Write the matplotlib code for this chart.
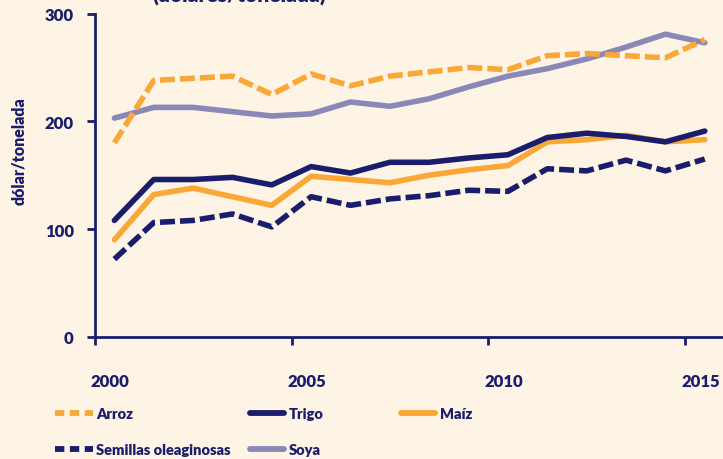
import matplotlib
matplotlib.use("Agg")
import matplotlib.pyplot as plt
import matplotlib.transforms as mtransforms
import numpy as np

# precios internacionales, dolares por tonelada
years = list(range(2000, 2016))
arroz = [180, 238, 240, 242, 225, 244, 233, 242, 246, 250, 248, 261, 263, 261, 259, 276]
trigo = [108, 146, 146, 148, 141, 158, 152, 162, 162, 166, 169, 185, 189, 186, 181, 191]
maiz = [90, 132, 138, 130, 122, 149, 146, 143, 150, 155, 159, 181, 183, 187, 181, 183]
semillas = [72, 106, 108, 114, 102, 130, 122, 128, 131, 136, 135, 156, 154, 164, 154, 165]
soya = [203, 213, 213, 209, 205, 207, 218, 214, 221, 232, 242, 249, 258, 269, 281, 273]
tick_years = [2000, 2005, 2010, 2015]
y_ticks = [0, 100, 200, 300]

BG = "#fdf4e6"
NAVY = "#1a1d6b"
ORANGE = "#f9a737"
LILA = "#8a88b6"

plt.rcParams['font.family'] = ['Lato', 'DejaVu Sans']

fig = plt.figure(figsize=(7.23, 4.60), dpi=100, facecolor=BG)
W, H = 723, 460
ax = fig.add_axes([94.7 / W, (H - 337.7) / H, (W - 94.7) / W, (337.7 - 14.7) / H])
ax.set_facecolor(BG)

# los puntos van centrados en cada año
x = np.array(years) + 0.5
lw = 4.0
dash = (2.7, 0.9)
ax.plot(x, soya, color=LILA, lw=lw, solid_capstyle='round', solid_joinstyle='round')
ax.plot(x, arroz, color=ORANGE, lw=lw, dashes=dash, dash_capstyle='butt')
ax.plot(x, semillas, color=NAVY, lw=lw, dashes=dash, dash_capstyle='butt')
ax.plot(x, maiz, color=ORANGE, lw=lw, solid_capstyle='round', solid_joinstyle='round')
ax.plot(x, trigo, color=NAVY, lw=lw, solid_capstyle='round', solid_joinstyle='round')

ax.set_xlim(2000, 2000 + (W - 94.7) / 39.36)
ax.set_ylim(0, 300)
for s in ['top', 'right']:
    ax.spines[s].set_visible(False)
for s in ['left', 'bottom']:
    ax.spines[s].set_color(NAVY)
    ax.spines[s].set_linewidth(2)

ax.set_yticks(y_ticks)
ax.set_yticklabels([str(v) for v in y_ticks])
ax.set_xticks(tick_years)
ax.set_xticklabels([str(v) for v in tick_years], ha='left')
ax.tick_params(axis='both', colors=NAVY, width=2, length=6, labelsize=12)
ax.tick_params(axis='y', pad=9)
ax.tick_params(axis='x', pad=20)
offset = mtransforms.ScaledTranslation(-4 / 100, 0, fig.dpi_scale_trans)
for lab in ax.get_xticklabels():
    lab.set_fontweight('heavy')
    lab.set_transform(lab.get_transform() + offset)
for lab in ax.get_yticklabels():
    lab.set_fontweight('heavy')

fig.text(19 / W, 1 - 151 / H, "dólar/tonelada", rotation=90, ha='center', va='center',
         color=NAVY, fontsize=11.5, fontweight='heavy')

# titulo recortado en la parte superior
fig.text(239 / W, 1 - 2.5 / H, "(dólares/tonelada)", ha='center', va='baseline',
         color=NAVY, fontsize=15, fontweight='heavy')

# leyenda manual
lax = fig.add_axes([0, 0, 1, 80 / H])
lax.set_xlim(0, W)
lax.set_ylim(80, 0)
lax.axis('off')
entries = [
    ("Arroz", ORANGE, True, 55, 34),
    ("Trigo", NAVY, False, 248, 34),
    ("Maíz", ORANGE, False, 399, 34),
    ("Semillas oleaginosas", NAVY, True, 55, 70),
    ("Soya", LILA, False, 248, 70),
]
for label, col, dashed, x0, yy in entries:
    if dashed:
        lax.plot([x0, x0 + 38], [yy, yy], color=col, lw=4.2, dashes=(1.6, 0.95), dash_capstyle='butt')
    else:
        lax.plot([x0 + 2, x0 + 36], [yy, yy], color=col, lw=4.2, solid_capstyle='round')
    lax.text(x0 + 41, yy + 1, label, ha='left', va='center', color=NAVY, fontsize=10.5, fontweight='heavy')

fig.savefig("out.png", dpi=100, facecolor=BG)
